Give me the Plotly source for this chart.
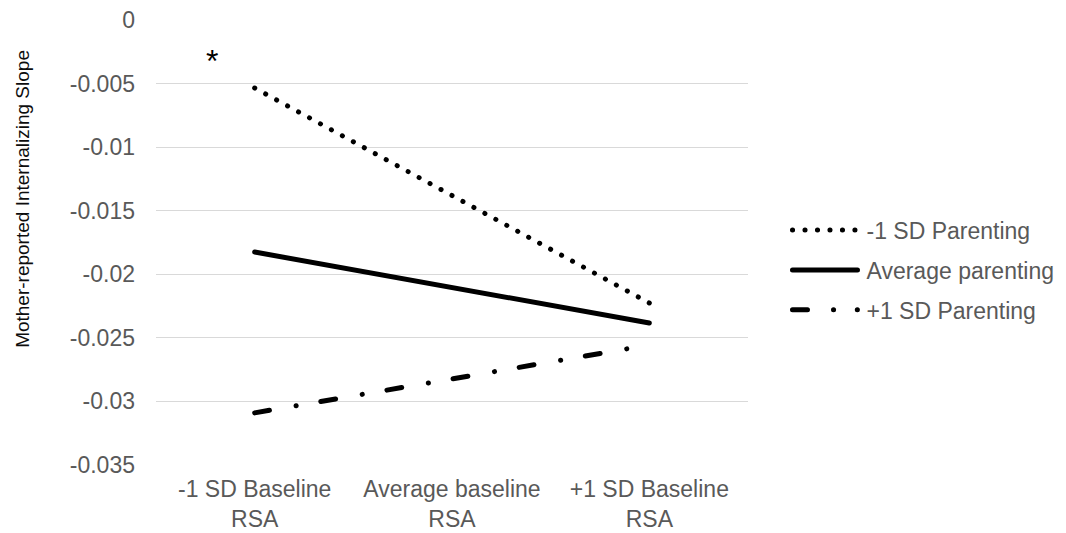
import plotly.graph_objects as go

categories = ["-1 SD Baseline<br>RSA", "Average baseline<br>RSA", "+1 SD Baseline<br>RSA"]
low_parenting = [-0.00535, -0.0138, -0.02226]
avg_parenting = [-0.01825, -0.02104, -0.02383]
high_parenting = [-0.0309, -0.0282, -0.02556]
series_names = ["-1 SD Parenting", "Average parenting", "+1 SD Parenting"]
y_ticks = [0, -0.005, -0.01, -0.015, -0.02, -0.025, -0.03, -0.035]
y_ticktext = ["0", "-0.005", "-0.01", "-0.015", "-0.02", "-0.025", "-0.03", "-0.035"]
y_title = "Mother-reported Internalizing Slope"

FONT = "Arial, Liberation Sans, sans-serif"
GRAY = "#595959"
TICK_SIZE = 23

fig = go.Figure()
fig.add_trace(go.Scatter(x=categories, y=low_parenting, mode="lines", name=series_names[0],
                         legendgroup="a",
                         line=dict(color="black", width=5, dash="0.1px,12.38px")))
fig.add_trace(go.Scatter(x=categories, y=avg_parenting, mode="lines", name=series_names[1],
                         legendgroup="b",
                         line=dict(color="black", width=5)))
fig.add_trace(go.Scatter(x=categories, y=high_parenting, mode="lines", name=series_names[2],
                         legendgroup="c",
                         line=dict(color="black", width=5, dash="15px,27px,0.1px,25px")))

fig.add_annotation(x=-0.216, y=-0.0032, xref="x", yref="y", text="*", showarrow=False,
                   font=dict(family=FONT, size=32, color="black"), yanchor="middle")

fig.add_annotation(x=-0.2247, y=0.598, xref="paper", yref="paper", text=y_title,
                   textangle=-90, showarrow=False, xanchor="center", yanchor="middle",
                   font=dict(family=FONT, size=19, color="#0d0d0d"))

fig.update_layout(
    width=1066, height=533,
    margin=dict(l=156, r=318, t=20, b=68, autoexpand=False),
    plot_bgcolor="white", paper_bgcolor="white",
    font=dict(family=FONT, size=TICK_SIZE, color=GRAY),
    showlegend=True,
    legend=dict(x=1.0667, y=0.438, xanchor="left", yanchor="middle",
                font=dict(family=FONT, size=TICK_SIZE, color=GRAY),
                tracegroupgap=7, itemwidth=69, bgcolor="rgba(0,0,0,0)"),
    xaxis=dict(type="category", range=[-0.5, 2.5], showgrid=False, showline=False,
               zeroline=False, ticks="", ticklabelstandoff=8, automargin=False,
               tickfont=dict(family=FONT, size=TICK_SIZE, color=GRAY)),
    yaxis=dict(range=[-0.035, 0], tickvals=y_ticks, ticktext=y_ticktext,
               showgrid=True, gridcolor="#d9d9d9", gridwidth=1, zeroline=False,
               showline=False, ticks="", ticklabelstandoff=20, automargin=False,
               tickfont=dict(family=FONT, size=TICK_SIZE, color=GRAY)),
)

post = """
var gd = document.getElementsByClassName('plotly-graph-div')[0];
function rc(){
  document.querySelectorAll('.scatterlayer path.js-line').forEach(function(p){ p.style.strokeLinecap='round'; });
  var lg = document.querySelectorAll('.legend path.js-line');
  lg.forEach(function(p){
    p.setAttribute('d', 'M5,0h65');
    p.style.strokeLinecap='round';
  });
  if (lg.length > 2) { lg[2].style.strokeDasharray = '15px,26px,0.1px,23.7px,0.1px,100px'; }
}
rc();
"""
fig.write_html("out.html", post_script=post)
